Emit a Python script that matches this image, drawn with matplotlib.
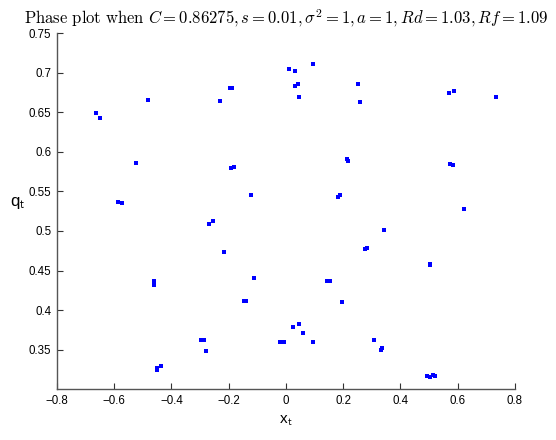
import matplotlib
matplotlib.use("Agg")
import matplotlib.pyplot as plt

# phase points (x_t, q_t)
x_t = [-0.664, -0.650, -0.481, -0.524, -0.231, -0.196, -0.189, -0.192, -0.183,
       0.010, 0.033, 0.033, 0.043, 0.047, 0.094, 0.253, 0.258, 0.213, 0.217,
       0.571, 0.586, 0.734, 0.575, 0.583,
       -0.586, -0.572, -0.122, -0.269, -0.255, -0.216, -0.462, -0.462, -0.112,
       -0.148, -0.140,
       0.181, 0.189, 0.622, 0.343, 0.276, 0.284, 0.502, 0.505, 0.143, 0.155,
       0.195,
       -0.452, -0.450, -0.436, -0.298, -0.287, -0.279,
       -0.020, -0.008, 0.026, 0.044, 0.061, 0.095, 0.308, 0.332, 0.336,
       0.494, 0.502, 0.514, 0.520]
q_t = [0.649, 0.643, 0.666, 0.586, 0.664, 0.681, 0.680, 0.580, 0.581,
       0.704, 0.702, 0.683, 0.686, 0.669, 0.711, 0.685, 0.663, 0.591, 0.588,
       0.674, 0.677, 0.669, 0.585, 0.583,
       0.537, 0.535, 0.546, 0.509, 0.512, 0.473, 0.437, 0.432, 0.440,
       0.411, 0.411,
       0.543, 0.545, 0.528, 0.501, 0.477, 0.478, 0.458, 0.457, 0.437, 0.437,
       0.410,
       0.325, 0.327, 0.329, 0.362, 0.362, 0.349,
       0.360, 0.360, 0.379, 0.382, 0.371, 0.360, 0.362, 0.350, 0.352,
       0.317, 0.315, 0.318, 0.317]

x_ticks = [-0.8, -0.6, -0.4, -0.2, 0, 0.2, 0.4, 0.6, 0.8]
x_labels = ['\u22120.8', '\u22120.6', '\u22120.4', '\u22120.2', '0', '0.2', '0.4', '0.6', '0.8']
y_ticks = [0.35, 0.4, 0.45, 0.5, 0.55, 0.6, 0.65, 0.7, 0.75]
y_labels = ['0.35', '0.4', '0.45', '0.5', '0.55', '0.6', '0.65', '0.7', '0.75']

plt.rcParams['mathtext.fontset'] = 'cm'
plt.rcParams['font.family'] = 'Liberation Sans'

fig = plt.figure(figsize=(5.56, 4.40), dpi=100)
ax = fig.add_axes([0.1025, 0.116, 0.8235, 0.809])

ax.plot(x_t, q_t, 's', color='#0000ff', markersize=2.2, markeredgewidth=0)

ax.set_xlim(-0.8, 0.8)
ax.set_ylim(0.3005, 0.75)
ax.set_xticks(x_ticks)
ax.set_xticklabels(x_labels)
ax.set_yticks(y_ticks)
ax.set_yticklabels(y_labels)

for side in ['top', 'right']:
    ax.spines[side].set_visible(False)
for side in ['left', 'bottom']:
    ax.spines[side].set_color('#555555')
    ax.spines[side].set_linewidth(1.0)
ax.tick_params(direction='in', length=4, width=0.8, color='#333333',
               labelsize=8.3, pad=4)

ax.set_xlabel('x$_\\mathsf{t}$', fontsize=11, labelpad=5)
ax.set_ylabel('q$_\\mathsf{t}$', fontsize=12, rotation=0, labelpad=8)
ax.set_title(r'$\mathrm{Phase\ plot\ when\ }C = 0.86275, s = 0.01, \sigma^2 = 1, a = 1, Rd = 1.03, Rf = 1.09$',
             fontsize=12, pad=7)

fig.savefig('out.png', dpi=100)
